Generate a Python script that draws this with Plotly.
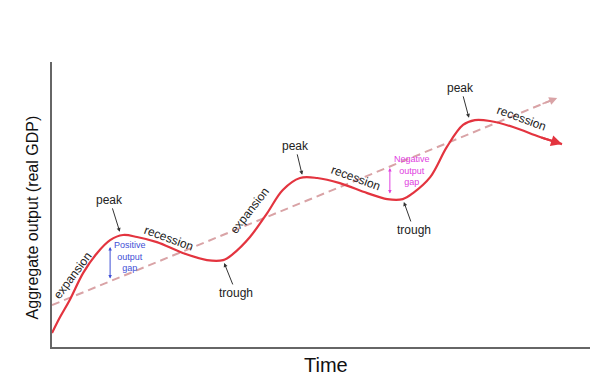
import plotly.graph_objects as go

# Business cycle curve (time units, output units)
time = [0.00, 0.15, 0.33, 0.58, 0.84, 1.08, 1.32, 1.58, 1.95, 2.43, 2.88, 3.18, 3.36, 3.68, 4.00,
        4.29, 4.61, 4.93, 5.35, 5.86, 6.23, 6.52, 6.71, 7.03, 7.34, 7.64, 7.86, 8.14, 8.57, 9.07, 9.48]
output = [0.49, 1.05, 1.65, 2.60, 3.30, 3.75, 3.93, 3.86, 3.68, 3.30, 3.05, 3.05, 3.26, 3.86, 4.70,
          5.51, 5.93, 5.93, 5.75, 5.40, 5.19, 5.19, 5.40, 5.96, 7.02, 7.79, 7.96, 7.93, 7.72, 7.37, 7.12]

# Long-run trend (potential output)
trend_time = [0.00, 9.39]
trend_output = [1.47, 8.74]

# Phase labels along the curve
phase_text = ["expansion", "recession", "expansion", "recession", "recession"]
phase_time = [0.39, 2.16, 3.68, 5.65, 8.72]
phase_output = [2.53, 3.82, 4.81, 5.93, 8.04]
phase_angle = [-53, 20, -52, 20, 20]

# Turning points with pointer labels
turn_text = ["peak", "trough", "peak", "trough", "peak"]
turn_time = [1.26, 3.20, 4.65, 6.54, 7.75]
turn_output = [4.04, 2.95, 6.04, 5.09, 8.04]
turn_dx = [-10, 12, -7, 10, -8]
turn_dy = [-32, 30, -29, 28, -30]

# Output gaps
gap_text = ["Positive<br>output<br>gap", "Negative<br>output<br>gap"]
gap_time = [1.08, 6.28]
gap_low = [2.35, 5.33]
gap_high = [3.51, 6.28]
gap_label_time = [1.45, 6.69]
gap_label_output = [3.16, 6.21]
gap_color = ["#3f4fd6", "#e040e0"]

FONT = "Arial, Liberation Sans, sans-serif"
RED = "#e3343f"
TREND = "#d9a3a6"

fig = go.Figure()
fig.add_trace(go.Scatter(
    x=trend_time, y=trend_output, mode="lines",
    line=dict(color=TREND, width=2, dash="8px,5px"),
    hoverinfo="skip", showlegend=False))
fig.add_trace(go.Scatter(
    x=time, y=output, mode="lines",
    line=dict(color=RED, width=2.2, shape="spline", smoothing=1.0),
    hoverinfo="skip", showlegend=False))

ann = []
# arrowheads at the ends of the curve and the trend line
ann.append(dict(x=time[-1], y=output[-1], ax=time[-2], ay=output[-2],
                xref="x", yref="y", axref="x", ayref="y", text="", showarrow=True,
                arrowhead=2, arrowsize=1.1, arrowwidth=2, arrowcolor=RED))
ann.append(dict(x=trend_time[-1], y=trend_output[-1], ax=trend_time[-1] - 0.3,
                ay=trend_output[-1] - 0.23, xref="x", yref="y", axref="x", ayref="y",
                text="", showarrow=True, arrowhead=2, arrowsize=1, arrowwidth=1.6,
                arrowcolor=TREND))
for t, xx, yy, a in zip(phase_text, phase_time, phase_output, phase_angle):
    ann.append(dict(x=xx, y=yy, xref="x", yref="y", text=t, showarrow=False,
                    textangle=a, font=dict(family=FONT, size=12, color="#222")))
for t, xx, yy, dx, dy in zip(turn_text, turn_time, turn_output, turn_dx, turn_dy):
    ann.append(dict(x=xx, y=yy, xref="x", yref="y", text=t, showarrow=True,
                    ax=dx, ay=dy, arrowhead=2, arrowsize=0.8, arrowwidth=1,
                    arrowcolor="#333", font=dict(family=FONT, size=12, color="#222")))
for t, gx, lo, hi, lx, ly, c in zip(gap_text, gap_time, gap_low, gap_high,
                                     gap_label_time, gap_label_output, gap_color):
    ann.append(dict(x=gx, y=hi, ax=gx, ay=lo, xref="x", yref="y", axref="x", ayref="y",
                    text="", showarrow=True, arrowhead=2, arrowside="end+start",
                    arrowsize=0.7, arrowwidth=1, arrowcolor=c))
    ann.append(dict(x=lx, y=ly, xref="x", yref="y", text=t, showarrow=False,
                    font=dict(family=FONT, size=9, color=c), align="center"))

ann.append(dict(x=0.51, y=-0.063, xref="paper", yref="paper", text="Time", showarrow=False,
                font=dict(family=FONT, size=20, color="#111"), yanchor="middle"))
ann.append(dict(x=-0.056, y=0.456, xref="paper", yref="paper", text="Aggregate output (real GDP)",
                showarrow=False, textangle=-90,
                font=dict(family=FONT, size=16, color="#111")))

fig.update_layout(
    width=592, height=372,
    margin=dict(l=44, r=10, t=54, b=33),
    paper_bgcolor="white", plot_bgcolor="white",
    annotations=ann,
    xaxis=dict(range=[0, 10], showgrid=False, zeroline=False, showticklabels=False,
               ticks="", showline=True, linecolor="#666", linewidth=2, fixedrange=True),
    yaxis=dict(range=[0, 10], showgrid=False, zeroline=False, showticklabels=False,
               ticks="", showline=True, linecolor="#666", linewidth=2, fixedrange=True),
)

fig.write_html("out.html")
